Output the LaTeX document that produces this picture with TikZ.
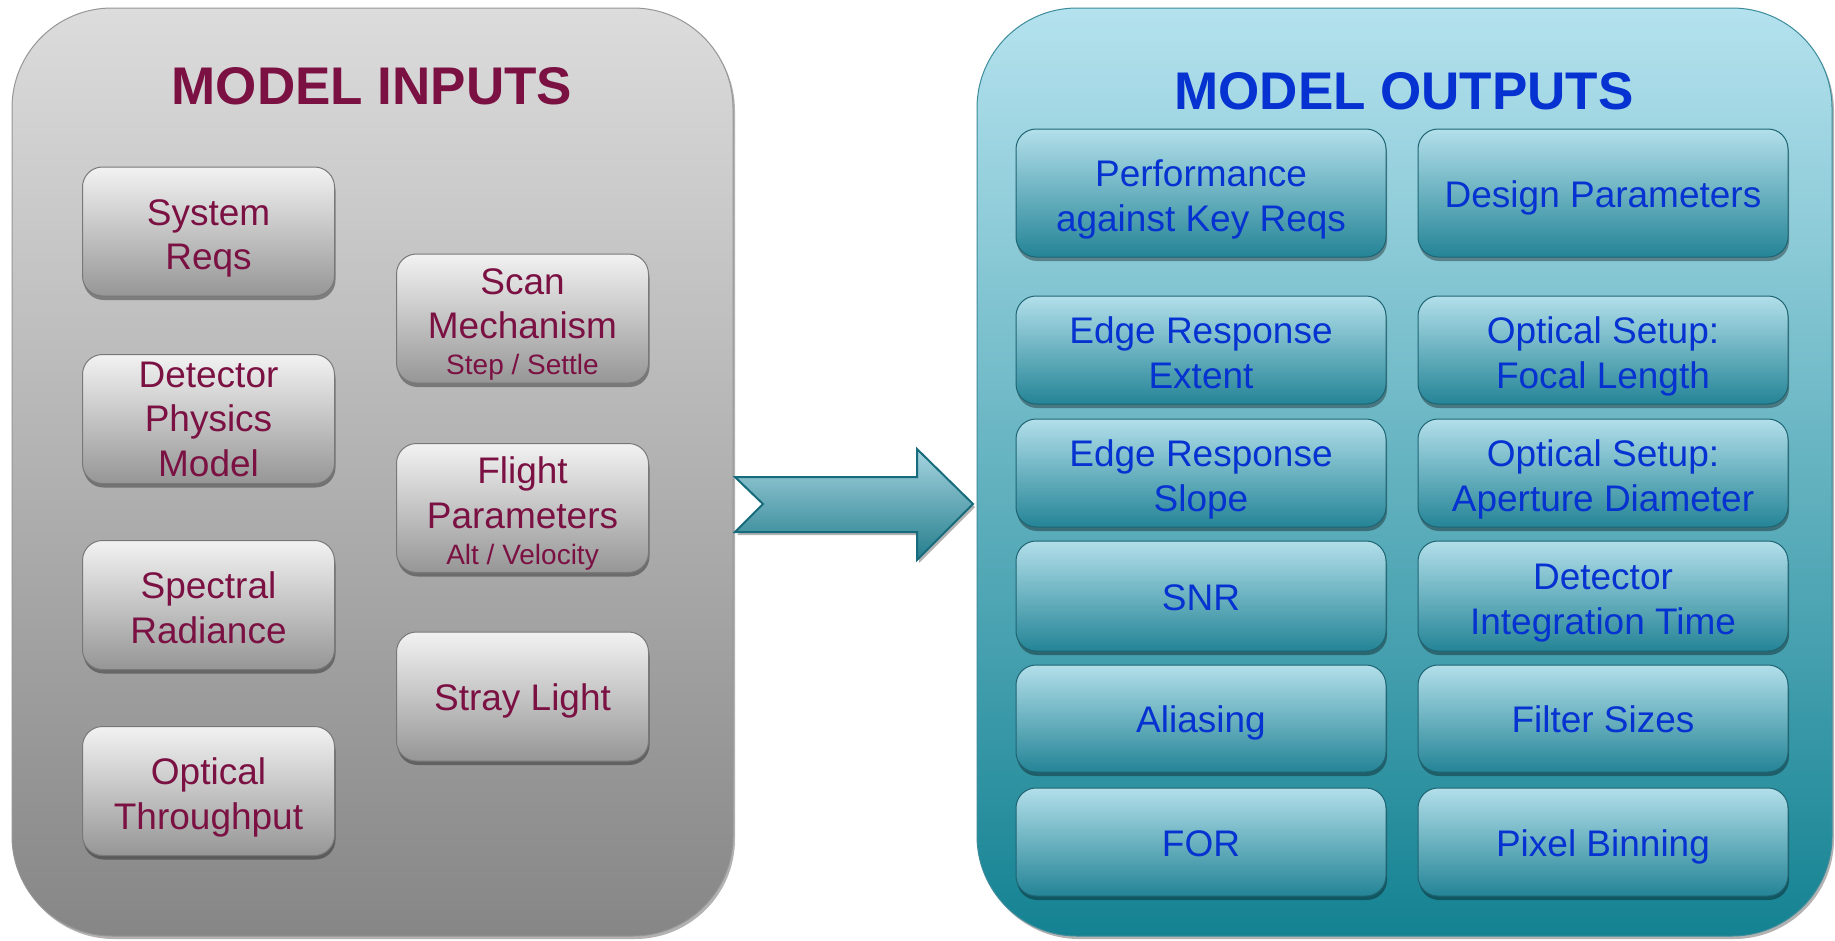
\documentclass[tikz,border=0pt]{standalone}
\usepackage{fontspec}
\setmainfont{Liberation Sans}
\usetikzlibrary{shadows}
\definecolor{inred}{RGB}{123,17,67}
\definecolor{outblue}{RGB}{5,50,208}
\definecolor{plgtop}{RGB}{220,220,220}
\definecolor{plgmid}{RGB}{180,180,180}
\definecolor{plgbot}{RGB}{134,134,134}
\definecolor{plgedge}{RGB}{150,150,150}
\definecolor{ibtop}{RGB}{242,242,242}
\definecolor{ibmid}{RGB}{205,205,205}
\definecolor{ibbot}{RGB}{150,150,150}
\definecolor{ibedge}{RGB}{120,120,120}
\definecolor{prtop}{RGB}{180,226,238}
\definecolor{prmid}{RGB}{118,188,204}
\definecolor{prbot}{RGB}{20,130,146}
\definecolor{predge}{RGB}{60,140,155}
\definecolor{obtop}{RGB}{178,223,234}
\definecolor{obmid}{RGB}{110,180,196}
\definecolor{obbot}{RGB}{36,132,150}
\definecolor{obedge}{RGB}{30,100,115}
\definecolor{artop}{RGB}{166,212,224}
\definecolor{arbot}{RGB}{36,125,140}
\definecolor{aredge}{RGB}{22,108,124}
\newcommand\tstrut{\rule{0pt}{40pt}}
\newcommand\bstrut{\rule[-8pt]{0pt}{8pt}}
\newcommand\onestrut{\rule[-9.5pt]{0pt}{47pt}}
\begin{document}
\begin{tikzpicture}[x=1pt,y=-1pt,
  panelbase/.style={rectangle, rounded corners=100pt, inner sep=0pt,
    minimum height=928pt, line width=1pt,
    drop shadow={shadow xshift=2pt, shadow yshift=-3pt, opacity=0.3, fill=black}},
  panelin/.style={panelbase, minimum width=721pt, top color=plgtop, middle color=plgmid, bottom color=plgbot, draw=plgedge},
  panelout/.style={panelbase, minimum width=855pt, top color=prtop, middle color=prmid, bottom color=prbot, draw=predge},
  boxbase/.style={rectangle, rounded corners=20pt, inner sep=0pt, line width=1pt, align=center,
    font=\fontsize{37}{44.5}\selectfont,
    drop shadow={shadow xshift=1pt, shadow yshift=-4pt, opacity=0.35, fill=black}},
  inbox/.style={boxbase, minimum width=252pt, minimum height=129pt,
    top color=ibtop, middle color=ibmid, bottom color=ibbot, draw=ibedge, text=inred},
  outbox/.style={boxbase, minimum width=370pt,
    top color=obtop, middle color=obmid, bottom color=obbot, draw=obedge, text=outblue},
  titletext/.style={font=\fontsize{53}{60}\selectfont\bfseries, inner sep=0pt},
  bigarrow/.style={top color=artop, bottom color=arbot, draw=aredge, line width=2pt, line join=miter,
    drop shadow={shadow xshift=2pt, shadow yshift=-3pt, opacity=0.3, fill=black}}
]
\useasboundingbox[fill=white] (0,0) rectangle (1835,940);

% panels
\node[panelin] (inputs) at (372.5,472) {};
\node[panelout] (outputs) at (1404.5,472) {};

\node[titletext, text=inred] (intitle) at (372,86) {MODEL INPUTS};
\node[titletext, text=outblue] (outtitle) at (1404,91) {MODEL OUTPUTS};

% input boxes, left column
\node[inbox] (sysreq) at (208.5,231.5) {\tstrut System\\Reqs\bstrut};
\node[inbox] (detector) at (208.5,419) {Detector\\Physics\\Model};
\node[inbox] (spectral) at (208.5,605) {\tstrut Spectral\\Radiance\bstrut};
\node[inbox] (optical) at (208.5,791) {\tstrut Optical\\Throughput\bstrut};

% input boxes, right column
\node[inbox] (scan) at (522.5,318.5) {\tstrut Scan\\Mechanism\\[-8.5pt]\fontsize{28}{36}\selectfont Step / Settle\bstrut};
\node[inbox] (flight) at (522.5,508) {\tstrut Flight\\Parameters\\[-8.5pt]\fontsize{28}{36}\selectfont Alt / Velocity\bstrut};
\node[inbox] (stray) at (522.5,696.5) {\onestrut Stray Light};

% big arrow
\draw[bigarrow] (735,477) -- (917,477) -- (917,449) -- (973,504) -- (917,560) -- (917,532) -- (735,532) -- (763,504) -- cycle;

% output boxes
\node[outbox, minimum height=128pt] (perf) at (1201,193) {\tstrut Performance\\against Key Reqs\bstrut};
\node[outbox, minimum height=128pt] (design) at (1603,193) {\onestrut Design Parameters};
\node[outbox, minimum height=108pt] (erext) at (1201,350) {\tstrut Edge Response\\Extent\bstrut};
\node[outbox, minimum height=108pt] (focal) at (1603,350) {\tstrut Optical Setup:\\Focal Length\bstrut};
\node[outbox, minimum height=108pt] (erslope) at (1201,473) {\tstrut Edge Response\\Slope\bstrut};
\node[outbox, minimum height=108pt] (aperture) at (1603,473) {\tstrut Optical Setup:\\Aperture Diameter\bstrut};
\node[outbox, minimum height=110pt] (snr) at (1201,596) {\onestrut SNR};
\node[outbox, minimum height=110pt] (inttime) at (1603,596) {\tstrut Detector\\Integration Time\bstrut};
\node[outbox, minimum height=107pt] (alias) at (1201,718.5) {\onestrut Aliasing};
\node[outbox, minimum height=107pt] (filter) at (1603,718.5) {\onestrut Filter Sizes};
\node[outbox, minimum height=108pt] (for) at (1201,842) {\onestrut FOR};
\node[outbox, minimum height=108pt] (binning) at (1603,842) {\onestrut Pixel Binning};
\end{tikzpicture}
\end{document}
